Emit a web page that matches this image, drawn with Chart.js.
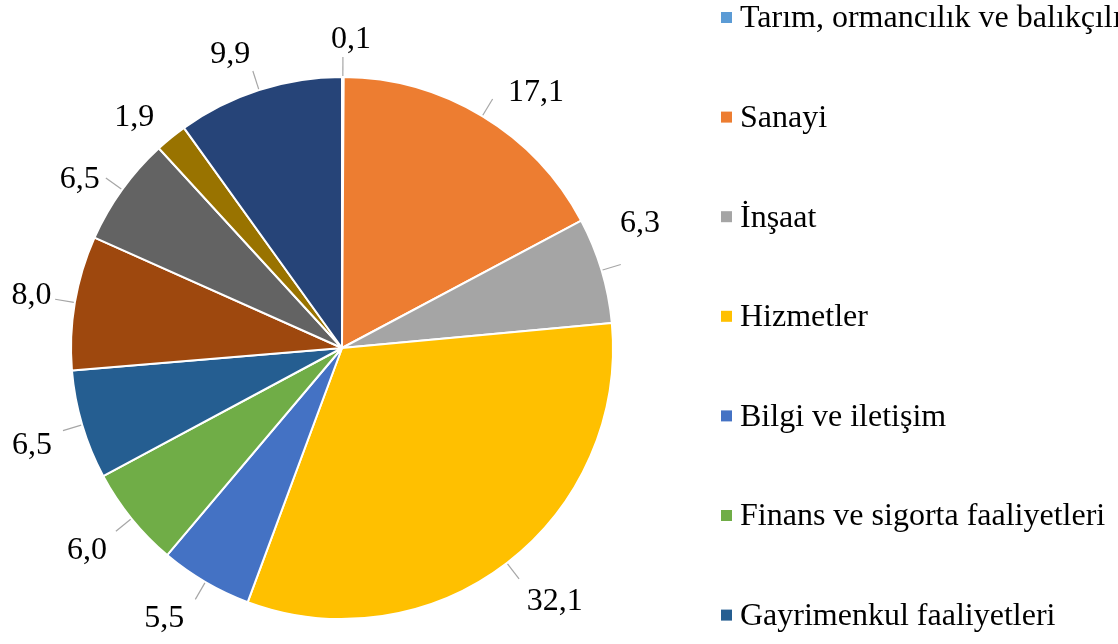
<!DOCTYPE html>
<html>
<head>
<meta charset="utf-8">
<script src="https://cdn.jsdelivr.net/npm/chart.js@4.4.1/dist/chart.umd.min.js"></script>
<style>
  html, body { margin: 0; padding: 0; background: #ffffff; overflow: hidden; }
  #c { display: block; }
</style>
</head>
<body>
<canvas id="c" width="1118" height="644"></canvas>
<script>
const categories = [
  "Tarım, ormancılık ve balıkçılık",
  "Sanayi",
  "İnşaat",
  "Hizmetler",
  "Bilgi ve iletişim",
  "Finans ve sigorta faaliyetleri",
  "Gayrimenkul faaliyetleri",
  "Mesleki, idari ve destek hizmet faaliyetleri",
  "Kamu yönetimi, eğitim, insan sağlığı ve sosyal hizmet faaliyetleri",
  "Diğer hizmet faaliyetleri",
  "Vergi-Sübvansiyon"
];
const values = [0.1, 17.1, 6.3, 32.1, 5.5, 6.0, 6.5, 8.0, 6.5, 1.9, 9.9];
const colors = [
  "#5B9BD5", "#ED7D31", "#A5A5A5", "#FFC000", "#4472C4", "#70AD47",
  "#255E91", "#9E480E", "#636363", "#997300", "#264478"
];

const FONT = '"Liberation Serif", "Times New Roman", serif';

const labelPlugin = {
  id: 'outLabels',
  afterDatasetsDraw(chart, args, opts) {
    const ctx = chart.ctx;
    const meta = chart.getDatasetMeta(0);
    const data = chart.data.datasets[0].data;
    const nudge = opts.angleNudge || [];
    const dist = opts.distance || [];
    const noLine = opts.noLine || [];
    ctx.save();
    meta.data.forEach((arc, i) => {
      const p = arc.getProps(['x', 'y', 'startAngle', 'endAngle', 'outerRadius'], true);
      const mid = (p.startAngle + p.endAngle) / 2;
      const R = p.outerRadius;
      const c = Math.cos(mid), s = Math.sin(mid);
      if (!noLine.includes(i)) {
        ctx.strokeStyle = '#A6A6A6';
        ctx.lineWidth = 1.2;
        ctx.beginPath();
        ctx.moveTo(p.x + c * (R + 1), p.y + s * (R + 1));
        ctx.lineTo(p.x + c * (R + 20), p.y + s * (R + 20));
        ctx.stroke();
      }
      const la = mid + (nudge[i] || 0) * Math.PI / 180;
      const d = R + (dist[i] || 48);
      const lx = p.x + Math.cos(la) * d;
      const ly = p.y + Math.sin(la) * d;
      ctx.fillStyle = '#000000';
      ctx.font = '32px ' + FONT;
      ctx.textAlign = 'center';
      ctx.textBaseline = 'middle';
      ctx.fillText(data[i].toFixed(1).replace('.', ','), lx, ly);
    });
    ctx.restore();
  },
  afterDraw(chart) {
    const ctx = chart.ctx;
    const labels = chart.data.labels;
    const bg = chart.data.datasets[0].backgroundColor;
    ctx.save();
    ctx.font = '32px ' + FONT;
    ctx.textAlign = 'left';
    ctx.textBaseline = 'middle';
    labels.forEach((lab, i) => {
      const y = 18 + i * 99.6;
      ctx.fillStyle = bg[i];
      ctx.fillRect(721, y - 6, 11, 11);
      ctx.fillStyle = '#000000';
      ctx.fillText(lab, 740, y + 1);
    });
    ctx.restore();
  }
};

new Chart(document.getElementById('c'), {
  type: 'pie',
  data: {
    labels: categories,
    datasets: [{
      data: values,
      backgroundColor: colors,
      borderColor: '#ffffff',
      borderWidth: 2
    }]
  },
  options: {
    responsive: false,
    animation: false,
    devicePixelRatio: 1,
    layout: { padding: { left: 70, right: 504, top: 76, bottom: 24 } },
    plugins: {
      legend: { display: false },
      tooltip: { enabled: false },
      outLabels: {
        angleNudge: [1.5, 6, -6, -2.5, 3, 0.5, -1, 0, -3, -3, -3],
        distance: [38, 50, 52, 60, 53, 55, 54, 44, 41, 39, 43],
        noLine: [9]
      }
    }
  },
  plugins: [labelPlugin]
});
</script>
</body>
</html>
